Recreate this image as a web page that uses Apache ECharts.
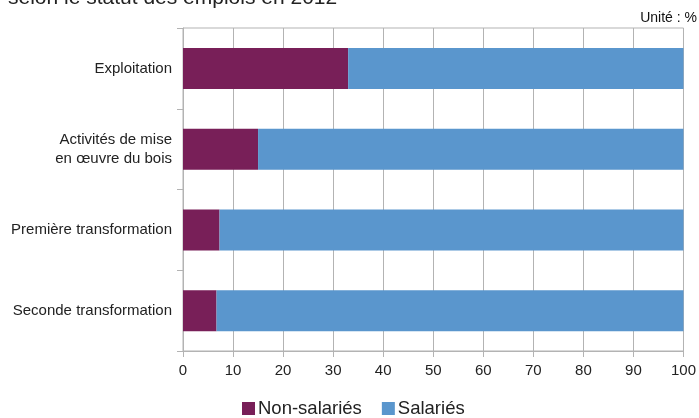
<!DOCTYPE html>
<html>
<head>
<meta charset="utf-8">
<script src="https://cdn.jsdelivr.net/npm/echarts@6/dist/echarts.min.js"></script>
<style>
html,body{margin:0;padding:0;background:#fff;}
#chart{width:699px;height:418px;}
</style>
</head>
<body>
<div id="chart"></div>
<script>
var categories = ['Exploitation', 'Activités de mise\nen œuvre du bois', 'Première transformation', 'Seconde transformation'];
var nonSalaries = [33, 15, 7.3, 6.7];
var salaries = [67, 85, 92.7, 93.3];
var seriesNames = ['Non-salariés', 'Salariés'];
var titleText = 'selon le statut des emplois en 2012';
var unitText = 'Unité : %';

var chart = echarts.init(document.getElementById('chart'), null, {renderer: 'canvas'});
var font = 'Liberation Sans, Arial, sans-serif';
chart.setOption({
  animation: false,
  backgroundColor: '#ffffff',
  title: [
    {text: titleText, left: 3, top: -17, textStyle: {fontFamily: font, fontSize: 21, fontWeight: 'normal', color: '#222'}},
    {text: unitText, right: -3, top: 6, textStyle: {fontFamily: font, fontSize: 14, fontWeight: 'normal', color: '#111'}}
  ],
  legend: {
    top: 394,
    left: 237,
    itemWidth: 13,
    itemHeight: 13,
    itemGap: 20,
    icon: 'rect',
    textStyle: {fontFamily: font, fontSize: 18.5, color: '#222', padding: [0,0,0,-2]},
    data: seriesNames
  },
  grid: {left: 183, right: 14, top: 28, bottom: 67, show: true, borderColor: '#b3b3b3', borderWidth: 1},
  xAxis: {
    type: 'value', min: 0, max: 100, interval: 10,
    axisLine: {show: true, lineStyle: {color: '#b3b3b3'}},
    axisTick: {show: true, length: 6, lineStyle: {color: '#b3b3b3'}},
    splitLine: {show: true, lineStyle: {color: '#b3b3b3'}},
    axisLabel: {fontFamily: font, fontSize: 15, color: '#222', margin: 12}
  },
  yAxis: {
    type: 'category', inverse: true, data: categories,
    axisLine: {show: true, lineStyle: {color: '#b3b3b3'}},
    axisTick: {show: true, length: 6, lineStyle: {color: '#b3b3b3'}},
    axisLabel: {fontFamily: font, fontSize: 15, color: '#222', margin: 11, lineHeight: 19}
  },
  series: [
    {name: seriesNames[0], type: 'bar', stack: 'total', data: nonSalaries, barWidth: 41, itemStyle: {color: '#781f58'}},
    {name: seriesNames[1], type: 'bar', stack: 'total', data: salaries, barWidth: 41, itemStyle: {color: '#5a96cd'}}
  ]
});
</script>
</body>
</html>
